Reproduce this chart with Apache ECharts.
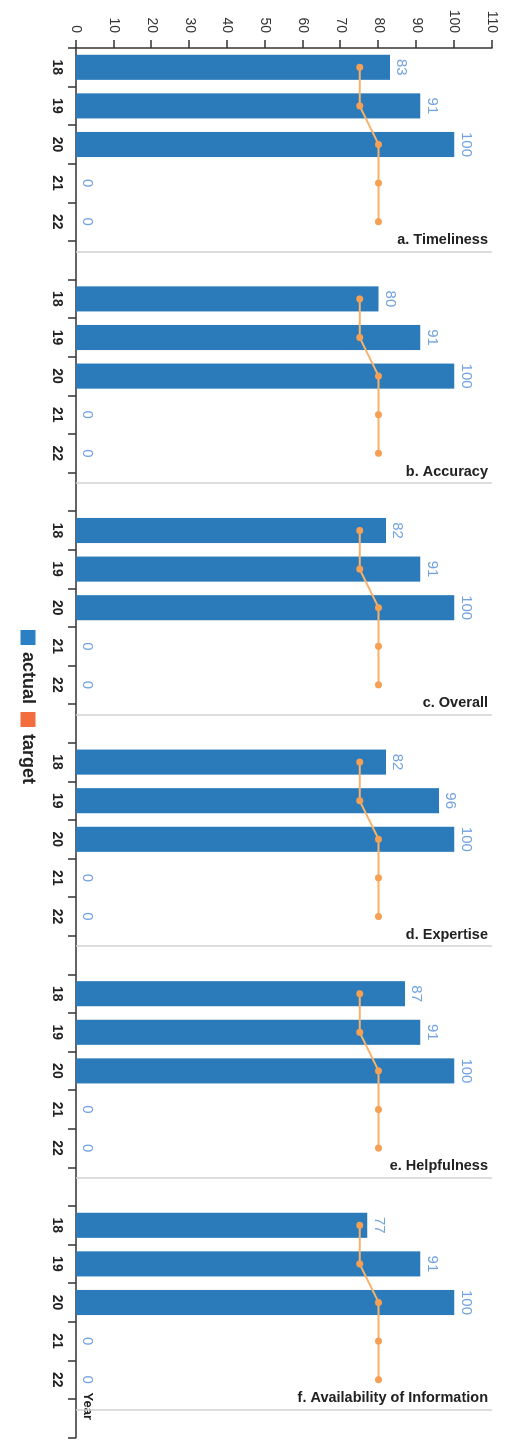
<!DOCTYPE html>
<html>
<head>
<meta charset="utf-8">
<script src="https://cdn.jsdelivr.net/npm/echarts@6/dist/echarts.min.js"></script>
<style>
  html, body { margin: 0; padding: 0; width: 510px; height: 1440px; overflow: hidden; background: #fff; }
  /* The chart is laid out landscape and turned a quarter turn clockwise for the portrait page. */
  #wrap { position: absolute; left: 0; top: 0; width: 1440px; height: 510px;
          transform-origin: 0 0; transform: translate(510px, 0) rotate(90deg); }
  #chart { width: 1440px; height: 510px; }
</style>
</head>
<body>
<div id="wrap"><div id="chart"></div></div>
<script>
// Survey years shown in every panel
const years = ['18', '19', '20', '21', '22'];

// Panel titles
const panelTitles = [
  'a. Timeliness',
  'b. Accuracy',
  'c. Overall',
  'd. Expertise',
  'e. Helpfulness',
  'f. Availability of Information'
];

// Actual scores per panel, by year
const actualTimeliness   = [83, 91, 100, 0, 0];
const actualAccuracy     = [80, 91, 100, 0, 0];
const actualOverall      = [82, 91, 100, 0, 0];
const actualExpertise    = [82, 96, 100, 0, 0];
const actualHelpfulness  = [87, 91, 100, 0, 0];
const actualAvailability = [77, 91, 100, 0, 0];

// Target score, by year (same in every panel)
const targetValues = [75, 75, 80, 80, 80];

// Value axis range
const valueMin = 0;
const valueMax = 110;
const valueInterval = 10;

const panelActuals = [
  actualTimeliness, actualAccuracy, actualOverall,
  actualExpertise, actualHelpfulness, actualAvailability
];

// One shared category axis: each panel's years followed by an empty spacer slot.
const slotsPerPanel = years.length + 1;
const categories = [];
const actualData = [];
const targetData = [];
panelActuals.forEach(function (vals, p) {
  years.forEach(function (y, i) {
    categories.push(p + '|' + y);
    actualData.push(vals[i]);
    targetData.push(targetValues[i]);
  });
  categories.push(p + '|');
  actualData.push('-');
  targetData.push('-');
});

// Panel dividers sit a little into each spacer slot, with the panel title beside them.
const dividers = panelTitles.map(function (title, p) {
  return {
    xAxis: p * slotsPerPanel + years.length + 0.27,
    label: { formatter: title }
  };
});

const chart = echarts.init(document.getElementById('chart'), null, { renderer: 'canvas' });

chart.setOption({
  animation: false,
  backgroundColor: '#ffffff',
  textStyle: { fontFamily: '"Liberation Sans", Arial, sans-serif' },
  legend: {
    data: [
      { name: 'actual', itemStyle: { color: '#2b80c4' } },
      { name: 'target', itemStyle: { color: '#f36c3d' } }
    ],
    icon: 'rect',
    itemWidth: 15,
    itemHeight: 15,
    itemGap: 8,
    left: 625,
    bottom: 14,
    textStyle: { fontSize: 18, fontWeight: 'bold', color: '#222', padding: [0, 0, 0, 2] }
  },
  grid: { left: 48, right: 2.4, top: 18, bottom: 76, containLabel: false },
  xAxis: [
    {
      type: 'category',
      data: categories,
      position: 'bottom',
      name: 'Year',
      nameLocation: 'end',
      nameGap: -45,
      nameTextStyle: {
        fontSize: 13, fontWeight: 'bold', color: '#222',
        align: 'left', verticalAlign: 'bottom', padding: [0, 0, 5, 0]
      },
      axisLine: { show: true, lineStyle: { color: '#333', width: 1.5 } },
      axisTick: { show: true, length: 8, interval: 0, lineStyle: { color: '#333', width: 1.5 } },
      axisLabel: {
        interval: 0,
        margin: 12,
        fontSize: 14,
        fontWeight: 'bold',
        color: '#222',
        formatter: function (v) { return v.split('|')[1]; }
      },
      splitLine: { show: false }
    },
    {
      type: 'value',
      min: 0,
      max: categories.length,
      show: false
    }
  ],
  yAxis: {
    type: 'value',
    min: valueMin,
    max: valueMax,
    interval: valueInterval,
    axisLine: { show: true, lineStyle: { color: '#333', width: 1.5 } },
    axisTick: { show: true, length: 8, lineStyle: { color: '#333', width: 1.5 } },
    axisLabel: { margin: 15, fontSize: 14, color: '#333' },
    splitLine: { show: false }
  },
  series: [
    {
      name: 'actual',
      type: 'bar',
      data: actualData,
      barCategoryGap: '35%',
      itemStyle: { color: '#2b7bba' },
      label: {
        show: true,
        position: 'top',
        distance: 4,
        fontSize: 15,
        color: '#72a2e0'
      },
      z: 2
    },
    {
      name: 'target',
      type: 'line',
      data: targetData,
      connectNulls: false,
      symbol: 'circle',
      symbolSize: 7,
      lineStyle: { color: '#f8b26a', width: 2 },
      itemStyle: { color: '#f5a052' },
      z: 3
    },
    {
      name: 'panels',
      type: 'scatter',
      xAxisIndex: 1,
      data: [],
      markLine: {
        silent: true,
        symbol: 'none',
        lineStyle: { color: '#d2d2d2', width: 1.5, type: 'solid' },
        label: {
          show: true,
          position: 'insideEndTop',
          distance: 4,
          fontSize: 14.5,
          fontWeight: 'bold',
          color: '#222'
        },
        data: dividers
      }
    }
  ]
});
</script>
</body>
</html>
